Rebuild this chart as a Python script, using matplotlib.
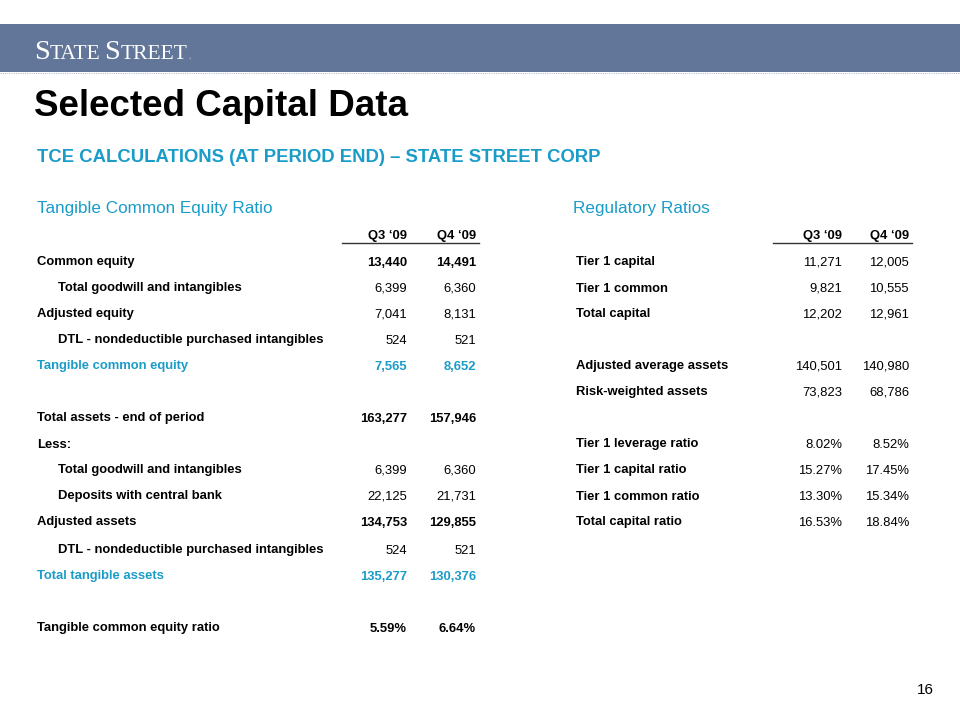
import matplotlib.pyplot as plt
from matplotlib.lines import Line2D
from matplotlib.patches import Rectangle

# Datos de la lámina
quarters = ["Q3 \u201809", "Q4 \u201809"]

left_labels = ["Common equity", "Total goodwill and intangibles", "Adjusted equity",
               "DTL - nondeductible purchased intangibles", "Tangible common equity", None,
               "Total assets - end of period", "Less:", "Total goodwill and intangibles",
               "Deposits with central bank", "Adjusted assets",
               "DTL - nondeductible purchased intangibles", "Total tangible assets", None,
               "Tangible common equity ratio"]
left_q3 = ["13,440", "6,399", "7,041", "524", "7,565", None, "163,277", "", "6,399",
           "22,125", "134,753", "524", "135,277", None, "5.59%"]
left_q4 = ["14,491", "6,360", "8,131", "521", "8,652", None, "157,946", "", "6,360",
           "21,731", "129,855", "521", "130,376", None, "6.64%"]

right_labels = ["Tier 1 capital", "Tier 1 common", "Total capital", None,
                "Adjusted average assets", "Risk-weighted assets", None,
                "Tier 1 leverage ratio", "Tier 1 capital ratio", "Tier 1 common ratio",
                "Total capital ratio"]
right_q3 = ["11,271", "9,821", "12,202", None, "140,501", "73,823", None,
            "8.02%", "15.27%", "13.30%", "16.53%"]
right_q4 = ["12,005", "10,555", "12,961", None, "140,980", "68,786", None,
            "8.52%", "17.45%", "15.34%", "18.84%"]

# Estilo por fila (tabla izquierda)
left_indent = {1, 3, 8, 9, 11}
left_cyan = {4, 12}
left_bold_vals = {0, 4, 6, 10, 12, 14}

CYAN = "#1a9cc8"
BAND = "#62769a"
FONT = "Liberation Sans"
FS = 9.4

fig = plt.figure(figsize=(9.6, 7.2), dpi=100)
ax = fig.add_axes([0, 0, 1, 1])
ax.set_xlim(0, 960)
ax.set_ylim(720, 0)
ax.axis("off")

# Banda superior con logo (versalitas simuladas)
ax.add_patch(Rectangle((0, 24), 960, 48, color=BAND, lw=0))
ax.add_line(Line2D([0, 960], [73, 73], color="#b8c0cc", lw=0.8, ls=(0, (1, 1))))
renderer = fig.canvas.get_renderer()
x = 34
for piece, size in [("S", 20.5), ("TATE", 15.5), (" ", 12), ("S", 20.5), ("TREET", 15.5)]:
    t = ax.text(x, 59, piece, fontsize=size, family="Liberation Serif", color="white")
    bb = t.get_window_extent(renderer)
    x += bb.width
ax.text(x + 1, 59, ".", fontsize=7, family="Liberation Serif", color="#d0d6e0")

ax.text(34, 106, "Selected Capital Data", fontsize=26.5, fontweight="bold",
        family=FONT, color="black", va="center")
ax.text(37, 157, "TCE CALCULATIONS (AT PERIOD END) \u2013 STATE STREET CORP", fontsize=13.3,
        fontweight="bold", family=FONT, color=CYAN, va="center")

ax.text(37, 208, "Tangible Common Equity Ratio", fontsize=12.3, family=FONT,
        color=CYAN, va="center")
ax.text(573, 208, "Regulatory Ratios", fontsize=12.3, family=FONT, color=CYAN, va="center")


def draw_table(x_lab, x_q3, x_q4, line_x0, labels, q3, q4, indent, cyan, bold_vals):
    for xq, q in zip((x_q3, x_q4), quarters):
        ax.text(xq, 239.5, q, fontsize=FS, fontweight="bold", family=FONT,
                ha="right", va="baseline")
    ax.add_line(Line2D([line_x0, x_q4 + 3], [243, 243], color="#333333", lw=1))
    for i, lab in enumerate(labels):
        if lab is None:
            continue
        y = 265.5 + 26 * i + (2 if i >= 11 else 0)
        col = CYAN if i in cyan else "black"
        xl = x_lab + (21 if i in indent else 0)
        ax.text(xl, y, lab, fontsize=FS, fontweight="bold", family=FONT,
                color=col, va="baseline")
        w = "bold" if i in bold_vals else "normal"
        ax.text(x_q3, y, q3[i], fontsize=FS, fontweight=w, family=FONT,
                color=col, ha="right", va="baseline")
        ax.text(x_q4, y, q4[i], fontsize=FS, fontweight=w, family=FONT,
                color=col, ha="right", va="baseline")


draw_table(37, 407, 476, 342, left_labels, left_q3, left_q4,
           left_indent, left_cyan, left_bold_vals)
draw_table(576, 842, 909, 773, right_labels, right_q3, right_q4,
           set(), set(), set())

ax.text(934, 690, "16", fontsize=11, family=FONT, ha="right", va="center")

fig.savefig("out.png", dpi=100)
